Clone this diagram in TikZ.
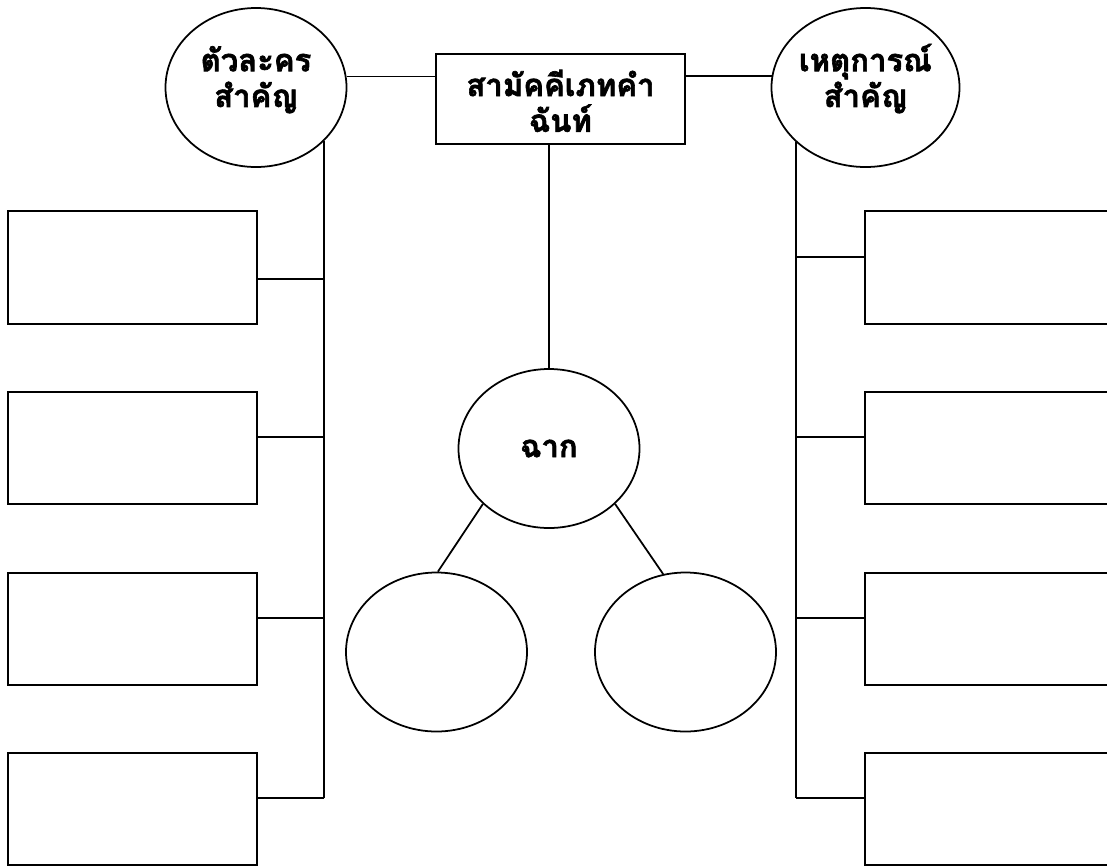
\documentclass[tikz,border=0pt]{standalone}
\usepackage{fontspec}
\usetikzlibrary{shapes.geometric}
\newfontfamily\thaifont[Script=Thai,BoldFeatures={FakeBold=2}]{Loma}

\begin{document}
\begin{tikzpicture}[
    x=0.3mm, y=-0.3mm,
    line width=1.5pt,
    every node/.style={
        align=center, inner sep=0pt,
        font=\thaifont\bfseries\fontsize{26.5}{30.5}\selectfont
    },
    oval/.style={
        draw, ellipse,
        minimum width=54.3mm, minimum height=47.7mm
    },
    headbox/.style={
        draw, rectangle,
        minimum width=74.7mm, minimum height=27mm
    },
    blankbox/.style={
        draw, rectangle,
        minimum width=74.7mm, minimum height=33.7mm
    },
    twolines/.style 2 args={text height=#1, text depth=#2}
]
    \useasboundingbox (0,0) rectangle (1107,865);

    \node[headbox, twolines={66pt}{10pt}] (title) at (560.5,99) {สามัคคีเภทคำ\\ฉันท์};
    \node[oval, twolines={53.2pt}{20pt}] (chars) at (256,87.5) {ตัวละคร\\สำคัญ};
    \node[oval, twolines={53.2pt}{20pt}] (events) at (865.5,87.5) {เหตุการณ์\\สำคัญ};
    \node[oval] (chak) at (549,448.5) {ฉาก};
    \node[oval] (setA) at (436.5,652) {};
    \node[oval] (setB) at (685.5,652) {};

    % boxes down both sides
    \foreach \y [count=\i] in {267.5,448,629,809}{
        \node[blankbox] (lb\i) at (132.5,\y) {};
        \node[blankbox] (rb\i) at (989.5,\y) {};
    }

    \draw (chars.7) -- (chars.7 -| title.west);
    \draw (events.173) -- (events.173 -| title.east);
    \draw (chak.north) -- (chak.north |- title.south);
    \draw (chak.220) -- (setA.89);
    \draw (chak.320) -- (setB.106);

    % left trunk
    \foreach \y [count=\i] in {279,437,618,798}{
        \coordinate (lj\i) at (chars.-38 |- 0,\y);
        \draw (lj\i) -- (lj\i -| lb\i.east);
    }
    \draw (chars.-38) -- (lj4);

    % right trunk
    \foreach \y [count=\i] in {257,437,618,798}{
        \coordinate (rj\i) at (events.218 |- 0,\y);
        \draw (rj\i) -- (rj\i -| rb\i.west);
    }
    \draw (events.218) -- (rj4);
\end{tikzpicture}
\end{document}
